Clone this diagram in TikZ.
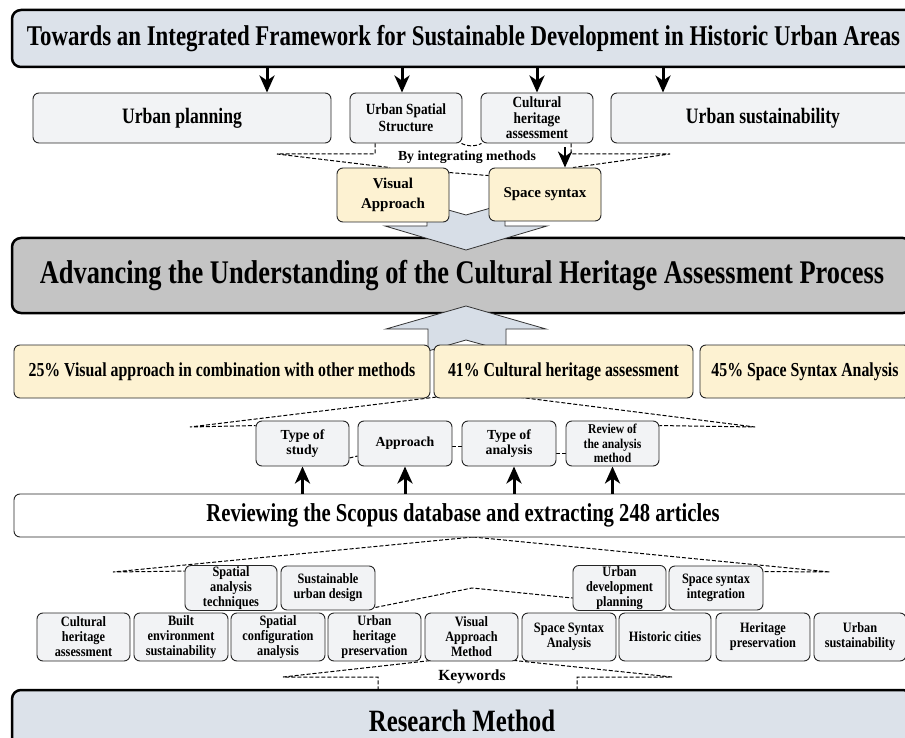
\documentclass[tikz,border=0pt]{standalone}
\usepackage{fontspec}
\setmainfont{Liberation Serif}
\newfontfamily\fA{Liberation Serif}[FakeStretch=0.8]
\newfontfamily\fB{Liberation Serif}
\newfontfamily\fC{Liberation Serif}[FakeStretch=0.86]
\usetikzlibrary{arrows.meta}
\definecolor{hdr}{HTML}{DCE2EA}
\definecolor{midgray}{HTML}{C4C4C4}
\definecolor{lite}{HTML}{F2F3F5}
\definecolor{yel}{HTML}{FDF2D2}
\definecolor{arrfill}{HTML}{D7DEE7}
\pgfdeclarelayer{back}
\pgfdeclarelayer{bg}
\pgfsetlayers{back,bg,main}
\tikzset{
  tA/.style 2 args={font=\fA\bfseries\fontsize{#1}{#2}\selectfont},
  tB/.style 2 args={font=\fB\bfseries\fontsize{#1}{#2}\selectfont},
  tC/.style 2 args={font=\fC\bfseries\fontsize{#1}{#2}\selectfont},
  hdrbox/.style={draw=black, line width=2.5pt, fill=hdr, rounded corners=9pt, inner sep=0pt},
  midbox/.style={draw=black, line width=2.5pt, fill=midgray, rounded corners=9pt, inner sep=0pt},
  litebox/.style={draw=black!85, line width=0.9pt, fill=lite, rounded corners=6pt, align=center, inner sep=1pt},
  yelbox/.style={draw=black!85, line width=0.9pt, fill=yel, rounded corners=6pt, align=center, inner sep=1pt},
  whitebox/.style={draw=black!85, line width=0.9pt, fill=white, rounded corners=6pt, inner sep=0pt},
  dsh/.style={dash pattern=on 4pt off 2pt, line width=1pt},
  arr/.style={line width=3pt, -{Stealth[length=17pt, width=15pt, inset=5pt]}},
  bigarr/.style={draw=black!80, line width=0.8pt, fill=arrfill, line join=miter},
}
\begin{document}
\begin{tikzpicture}[x=1pt,y=-1pt]
\useasboundingbox (0,0) rectangle (905,738);
\clip (0,0) rectangle (905,738);
\begin{pgfonlayer}{back}
\fill[white] (0,0) rectangle (905,738);
\end{pgfonlayer}

% top header
\node[hdrbox, minimum width=903pt, minimum height=57pt, tA={28.6}{32}] (top) at (463.5,38.5)
  {Towards an Integrated Framework for Sustainable Development in Historic Urban Areas};

% row 2
\node[litebox, minimum width=298pt, minimum height=50pt, tA={22}{25}] (up) at (182,118) {Urban planning};
\node[litebox, minimum width=112pt, minimum height=50pt, tC={15.5}{17}] (uss) at (406,118) {Urban Spatial\\Structure};
\node[litebox, minimum width=112pt, minimum height=50pt, tC={15.5}{15.5}] (cha) at (537,118) {Cultural\\heritage\\assessment};
\node[litebox, minimum width=304pt, minimum height=50pt, tA={22}{25}] (us) at (763,118) {Urban sustainability};

\coordinate (a1) at (267,0);
\coordinate (a2) at (402,0);
\coordinate (a3) at (537,0);
\coordinate (a4) at (663,0);
\draw[arr] (top.south -| a1) -- (up.north -| a1);
\draw[arr] (top.south -| a2) -- (uss.north -| a2);
\draw[arr] (top.south -| a3) -- (cha.north -| a3);
\draw[arr] (top.south -| a4) -- (us.north -| a4);

% middle header
\node[midbox, minimum width=900pt, minimum height=75pt, tA={33}{37}] (mid) at (462,275.5)
  {Advancing the Understanding of the Cultural Heritage Assessment Process};

% hollow down arrow
\draw[bigarr] (427,204) -- (466,215) -- (505,204) -- (505,226) -- (547,226) -- (466,250) -- (385,226) -- (427,226) -- cycle;

% methods
\node[yelbox, minimum width=112pt, minimum height=54pt, tB={15}{20}] (va) at (393,195) {Visual\\Approach};
\node[yelbox, minimum width=112pt, minimum height=53pt, tB={15}{20}] (ss) at (545,194.5) {Space syntax};

\node[tB={13.8}{15}, inner sep=0pt] (integ) at (467,157) {By integrating methods};

\coordinate (d1) at (375,154);
\coordinate (d2) at (277,154);
\coordinate (d3) at (571,154);
\coordinate (d4) at (670,154);
\coordinate (d5) at (565,0);
\begin{pgfonlayer}{bg}
\draw[dsh] (uss.south -| d1) -- (d1) -- (d2) -- ([xshift=-3pt]va.north);
\draw[dsh] (cha.south -| d3) -- (d3) -- (d4) -- ([xshift=28pt]ss.north);
\draw[dsh] ([xshift=-1pt]uss.south east) to[bend right=25] ([xshift=1pt]cha.south west);
\draw[dsh] ([yshift=-5pt]va.north east) -- ([yshift=-8pt]ss.north west);
\end{pgfonlayer}
\draw[line width=2.6pt, -{Stealth[length=16pt, width=14pt, inset=5pt]}] ([yshift=-4pt]cha.south -| d5) -- (ss.north -| d5);

% hollow up arrow
\draw[bigarr] (428,351) -- (466,340) -- (506,351) -- (506,329) -- (546,329) -- (466,306) -- (386,329) -- (428,329) -- cycle;

% percentages
\node[yelbox, minimum width=416pt, minimum height=53pt, tA={19.8}{23}] (p1) at (222,371.5) {25\% Visual approach in combination with other methods};
\node[yelbox, minimum width=259pt, minimum height=53pt, tA={19.8}{23}] (p2) at (563.5,371.5) {41\% Cultural heritage assessment};
\node[yelbox, minimum width=210pt, minimum height=53pt, tA={19.8}{23}] (p3) at (805,371.5) {45\% Space Syntax Analysis};

% review aspects
\node[litebox, minimum width=93pt, minimum height=45pt, tB={13.8}{15.5}] (ts) at (302.5,443.5) {Type of\\study};
\node[litebox, minimum width=94pt, minimum height=45pt, tB={13.8}{15.5}] (ap) at (405,443.5) {Approach};
\node[litebox, minimum width=94pt, minimum height=45pt, tB={13.8}{15.5}] (ta) at (509,443.5) {Type of\\analysis};
\node[litebox, minimum width=93pt, minimum height=45pt, tC={13.5}{14.5}] (rv) at (612.5,443.5) {Review of\\the analysis\\method};

\coordinate (r1) at (478,392);
\coordinate (r2) at (190,427);
\coordinate (r3) at (755,427);
\begin{pgfonlayer}{bg}
\draw[dsh] (r1) -- (r2) -- ([yshift=-5pt]ts.north west);
\draw[dsh] (r1) -- (r3) -- ([yshift=-5pt]rv.north east);
\draw[dsh] ([yshift=-14.5pt]ts.east) -- ([yshift=-12.5pt]ap.west);
\draw[dsh] ([yshift=-2.5pt]ap.east) -- ([yshift=-2.5pt]ta.west);
\draw[dsh] ([yshift=-9.5pt]ta.east) -- ([yshift=-9.5pt]rv.west);
\end{pgfonlayer}

% scopus
\node[whitebox, minimum width=898pt, minimum height=43pt, tA={25.8}{29}] (sc) at (463,515.5)
  {Reviewing the Scopus database and extracting 248 articles};
\coordinate (u3) at (514,0);
\draw[arr] (sc.north -| ts) -- (ts.south);
\draw[arr] (sc.north -| ap) -- (ap.south);
\draw[arr] (sc.north -| u3) -- (ta.south -| u3);
\draw[arr] (sc.north -| rv) -- (rv.south);

% keyword groups
\node[litebox, minimum width=92pt, minimum height=44pt, tC={14.3}{15}] (sat) at (231,588) {Spatial\\analysis\\techniques};
\node[litebox, minimum width=94pt, minimum height=44pt, tC={14.3}{15}] (sud) at (328,588) {Sustainable\\urban design};
\node[litebox, minimum width=93pt, minimum height=44pt, tC={14.3}{15}] (udp) at (619.5,588) {Urban\\development\\planning};
\node[litebox, minimum width=94pt, minimum height=44pt, tC={14.3}{15}] (ssi) at (716,588) {Space syntax\\integration};

\coordinate (s1) at (473,537);
\coordinate (s2) at (113,572);
\coordinate (s3) at (830,572);
\coordinate (s4) at (472,588);
\begin{pgfonlayer}{bg}
\draw[dsh] (s1) -- (s2) -- ([yshift=-6pt]sat.north west);
\draw[dsh] (s1) -- (s3) -- ([yshift=-6pt]ssi.north east);
\draw[dsh] ([yshift=3pt]sud.south east) -- (s4) -- ([yshift=-10pt]udp.west);
\end{pgfonlayer}

% keywords
\node[litebox, minimum width=93pt, minimum height=48pt, tC={14.3}{15}] (k1) at (83.5,637) {Cultural\\heritage\\assessment};
\node[litebox, minimum width=94pt, minimum height=48pt, tC={14.3}{15}] (k2) at (181,637) {Built\\environment\\sustainability};
\node[litebox, minimum width=94pt, minimum height=48pt, tC={14.3}{15}] (k3) at (278,637) {Spatial\\configuration\\analysis};
\node[litebox, minimum width=93pt, minimum height=48pt, tC={14.3}{15}] (k4) at (374.5,637) {Urban\\heritage\\preservation};
\node[litebox, minimum width=93pt, minimum height=48pt, tC={14.3}{15}] (k5) at (471.5,637) {Visual\\Approach\\Method};
\node[litebox, minimum width=94pt, minimum height=48pt, tC={14.3}{15}] (k6) at (569,637) {Space Syntax\\Analysis};
\node[litebox, minimum width=92pt, minimum height=48pt, tC={14.3}{15}] (k7) at (665,637) {Historic cities};
\node[litebox, minimum width=94pt, minimum height=48pt, tC={14.3}{15}] (k8) at (763,637) {Heritage\\preservation};
\node[litebox, minimum width=92pt, minimum height=48pt, tC={14.3}{15}] (k9) at (860,637) {Urban\\sustainability};

\node[tB={15.5}{17}, inner sep=0pt] (kw) at (472,677) {Keywords};

% research method
\node[hdrbox, minimum width=900pt, minimum height=62pt, tA={31}{34}] (rm) at (462,721) {Research Method};

\coordinate (k0) at (471.5,656);
\coordinate (kl) at (283,677);
\coordinate (kr) at (672,677);
\coordinate (kla) at (378,0);
\coordinate (kra) at (577,0);
\begin{pgfonlayer}{bg}
\draw[dsh] (k0) -- (kl) -- (kl -| kla) -- (rm.north -| kla);
\draw[dsh] (k0) -- (kr) -- (kr -| kra) -- (rm.north -| kra);
\end{pgfonlayer}
\end{tikzpicture}
\end{document}
